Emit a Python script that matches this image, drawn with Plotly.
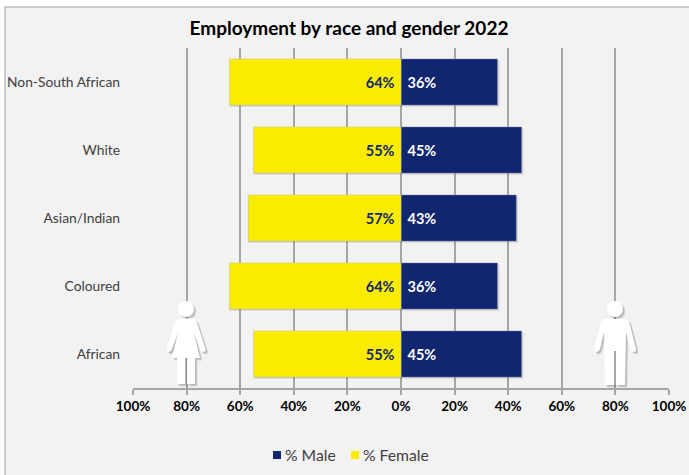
import plotly.graph_objects as go

# Employment shares by population group, drawn bottom to top
groups = ["African", "Coloured", "Asian/Indian", "White", "Non-South African"]
male_pct = [45, 36, 43, 45, 36]
female_pct = [55, 64, 57, 55, 64]
axis_ticks = [-100, -80, -60, -40, -20, 0, 20, 40, 60, 80, 100]
axis_labels = ["100%", "80%", "60%", "40%", "20%", "0%", "20%", "40%", "60%", "80%", "100%"]
male_name, male_colour = "% Male", "#10266f"
female_name, female_colour = "% Female", "#f9ec00"

W, H = 689, 475
LEFT, RIGHT, TOP, BOTTOM = 133, 669, 48, 388
BARGAP = 0.32
FONT = "Lato, sans-serif"
PAD = "\u00a0"


def dx(px):
    return (px - LEFT) / (RIGHT - LEFT)


def dy(py):
    return (BOTTOM - py) / (BOTTOM - TOP)


def path_from(points, cx):
    """Build an SVG path in axis-domain units from commands given in screen pixels."""
    parts = []
    for cmd in points:
        if cmd == "Z":
            parts.append("Z")
            continue
        letter, *vals = cmd
        pairs = [f"{dx(cx + vals[i]):.5f},{dy(vals[i + 1]):.5f}" for i in range(0, len(vals), 2)]
        parts.append(letter + " " + " ".join(pairs))
    return " ".join(parts)


woman = [
    ("M", -6, 318.5), ("L", 6, 318.5), ("Q", 10, 319, 11.5, 324), ("L", 19.5, 349),
    ("Q", 20, 352, 17, 352), ("Q", 15, 352, 14, 349), ("L", 8, 333), ("L", 14, 358),
    ("L", 9, 358), ("L", 9, 384), ("L", 1, 384), ("L", 1, 358), ("L", -1, 358),
    ("L", -1, 384), ("L", -9, 384), ("L", -9, 358), ("L", -14, 358), ("L", -8, 333),
    ("L", -14, 349), ("Q", -15, 352, -17, 352), ("Q", -20, 352, -19.5, 349),
    ("L", -11.5, 324), ("Q", -10, 319, -6, 318.5), "Z",
]
man = [
    ("M", -10, 319), ("L", 10, 319), ("Q", 14, 319, 15, 325), ("L", 21, 349),
    ("Q", 21.5, 352, 18.5, 352), ("Q", 16, 352, 15, 349), ("L", 11, 332), ("L", 10, 385),
    ("L", 0.7, 385), ("L", 0.7, 351), ("L", -0.7, 351), ("L", -0.7, 385), ("L", -10, 385),
    ("L", -11, 332), ("L", -15, 349), ("Q", -16, 352, -18.5, 352), ("Q", -21, 352, -21, 349),
    ("L", -15, 325), ("Q", -14, 319, -10, 319), "Z",
]


def figure_shapes(points, cx, head_y=309, head_r=8):
    shapes = []
    layers = [(2.5, 2.5, "rgba(0,0,0,0.10)"), (1.5, 1.5, "rgba(0,0,0,0.14)"), (0, 0, "#ffffff")]
    for ox, oy, colour in layers:
        moved = [c if c == "Z" else (c[0], *[v + (ox if i % 2 == 0 else oy) for i, v in enumerate(c[1:])])
                 for c in points]
        shapes.append(dict(type="path", xref="x domain", yref="y domain", layer="above",
                           path=path_from(moved, cx), fillcolor=colour, line_width=0))
        shapes.append(dict(type="circle", xref="x domain", yref="y domain", layer="above",
                           x0=dx(cx - head_r + ox), x1=dx(cx + head_r + ox),
                           y0=dy(head_y + head_r + oy), y1=dy(head_y - head_r + oy),
                           fillcolor=colour, line_width=0))
    return shapes


def bar_shadows():
    """Soft drop shadow under each bar, sized from the same values as the bars."""
    half = (1 - BARGAP) / 2
    band_px = (BOTTOM - TOP) / len(groups)
    step_x = 200 / (RIGHT - LEFT)
    step_y = 1 / band_px
    shapes = []
    for i, (m, f) in enumerate(zip(male_pct, female_pct)):
        for off, alpha in ((2.0, 0.08), (1.0, 0.12)):
            shapes.append(dict(type="rect", xref="x", yref="y", layer="between",
                               x0=-f, x1=m + off * step_x,
                               y0=i - half - off * step_y, y1=i + half - off * step_y,
                               fillcolor=f"rgba(0,0,0,{alpha})", line_width=0))
    return shapes


def legend_entry(name, colour, box_x, text_x):
    """One legend key: a small colour square followed by its label."""
    shape = dict(type="rect", xref="x domain", yref="y domain", layer="above",
                 x0=dx(box_x), x1=dx(box_x + 8), y0=dy(459), y1=dy(451),
                 fillcolor=colour, line_width=0)
    note = dict(text=name, xref="x domain", yref="y domain", x=dx(text_x), y=dy(455),
                xanchor="left", yanchor="middle", showarrow=False,
                font=dict(size=15.7, color="#404040", family=FONT))
    return shape, note


fig = go.Figure()
fig.add_bar(
    name=male_name, y=groups, x=male_pct, orientation="h",
    marker=dict(color=male_colour, line=dict(color="#8f97b5", width=0.5)),
    text=[f"{PAD}{v}%" for v in male_pct], textposition="inside", insidetextanchor="start",
    textangle=0, textfont=dict(color="#ffffff", size=14.5, family=FONT, weight="bold"),
    hoverinfo="skip",
)
fig.add_bar(
    name=female_name, y=groups, x=[-v for v in female_pct], orientation="h",
    marker=dict(color=female_colour, line=dict(color="#c9c9a0", width=0.5)),
    text=[f"{v}%{PAD}" for v in female_pct], textposition="inside", insidetextanchor="start",
    textangle=0, textfont=dict(color=male_colour, size=14.5, family=FONT, weight="bold"),
    hoverinfo="skip",
)

panel = dict(type="rect", xref="x domain", yref="y domain", layer="below",
             x0=dx(5), x1=dx(720), y0=dy(500), y1=dy(7),
             fillcolor="#f2f2f2", line=dict(color="#bfbfbf", width=1.5))

male_key, male_note = legend_entry(male_name, male_colour, 273, 283)
female_key, female_note = legend_entry(female_name, female_colour, 351, 361)

fig.update_layout(
    width=W, height=H, barmode="relative", bargap=BARGAP, showlegend=False,
    margin=dict(l=LEFT, r=W - RIGHT, t=TOP, b=H - BOTTOM, autoexpand=False),
    paper_bgcolor="#ffffff", plot_bgcolor="rgba(0,0,0,0)",
    font=dict(family=FONT, color="#404040"),
    title=dict(text="<b>Employment by race and gender 2022</b>", x=349 / W, xanchor="center",
               y=1 - 28 / H, yanchor="middle", font=dict(size=19, color="#000000", family=FONT)),
    xaxis=dict(range=[-100, 100], tickvals=axis_ticks, ticktext=axis_labels, showgrid=True,
               gridcolor="#a6a6a6", gridwidth=1.5, zeroline=False,
               showline=True, linecolor="#a6a6a6", linewidth=1.5,
               ticks="outside", ticklen=5, tickwidth=1.5, tickcolor="#a6a6a6",
               tickfont=dict(size=13.5, color="#000000", family=FONT, weight="bold")),
    yaxis=dict(categoryorder="array", categoryarray=groups, showgrid=False, zeroline=False,
               ticks="", ticklabelstandoff=12, tickfont=dict(size=13.8, color="#404040")),
    shapes=[panel] + bar_shadows() + [male_key, female_key]
           + figure_shapes(woman, 186) + figure_shapes(man, 615),
    annotations=[male_note, female_note],
)

fig.write_html("out.html", config={"displayModeBar": False})
